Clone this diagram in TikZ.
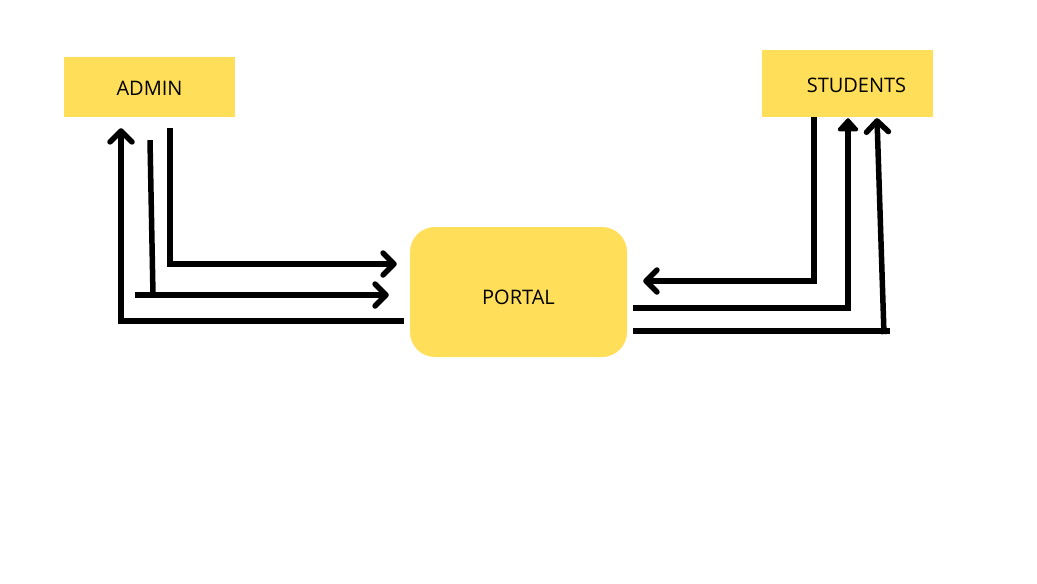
\documentclass[tikz,border=0pt]{standalone}
\usepackage{fontspec}
\setsansfont{Open Sans}
\usetikzlibrary{arrows.meta,positioning}
\definecolor{boxyellow}{HTML}{FFDE59}
\tikzset{
  entity/.style={fill=boxyellow, minimum width=171pt, minimum height=60pt,
    font=\sffamily\fontsize{20}{22}\selectfont},
  process/.style={fill=boxyellow, rounded corners=25pt, minimum width=217pt,
    minimum height=130pt, font=\sffamily\fontsize{20}{22}\selectfont},
  stroke/.style={line width=5.5pt},
  flow/.style={stroke, -{Straight Barb[round, length=11pt, width=22pt]}},
  bigflow/.style={stroke, -{Triangle[round, length=14pt, width=24pt]}}
}
\begin{document}
\begin{tikzpicture}[x=1pt, y=-1pt]
  \useasboundingbox (0,0) rectangle (1037,584);

  \node[entity] (admin) at (149.5,87) {\raisebox{-1.5pt}[\height][\depth]{ADMIN}};
  \node[entity, minimum height=67pt] (students) at (847.5,83.5) {\hspace*{18pt}\raisebox{-2pt}[\height][\depth]{STUDENTS}};
  \node[process] (portal) at (518.5,292) {\raisebox{-5pt}[\height][\depth]{PORTAL}};

  % admin side
  \draw[flow] ([xshift=20.5pt,yshift=-11pt]admin.south) |- ([xshift=-13pt,yshift=28pt]portal.west);
  \draw[stroke] ([xshift=0.5pt,yshift=-23pt]admin.south) -- ([xshift=3.5pt,yshift=-178pt]admin.south);
  \draw[flow] ([xshift=-275pt,yshift=-3pt]portal.west) -- ([xshift=-21pt,yshift=-3pt]portal.west);
  \draw[flow] ([xshift=-6pt,yshift=-29pt]portal.west) -| ([xshift=-28.5pt,yshift=-11pt]admin.south);

  % students side
  \draw[flow] ([xshift=-33.5pt]students.south) |- ([xshift=16pt,yshift=11pt]portal.east);
  \draw[bigflow] ([xshift=6pt,yshift=-16pt]portal.east) -| ([xshift=0.5pt,yshift=-1pt]students.south);
  \draw[stroke] ([xshift=6pt,yshift=-39pt]portal.east) -- ([xshift=263pt,yshift=-39pt]portal.east);
  \draw[flow] ([xshift=36.5pt,yshift=-217pt]students.south) -- ([xshift=29.5pt,yshift=-1pt]students.south);
\end{tikzpicture}
\end{document}
